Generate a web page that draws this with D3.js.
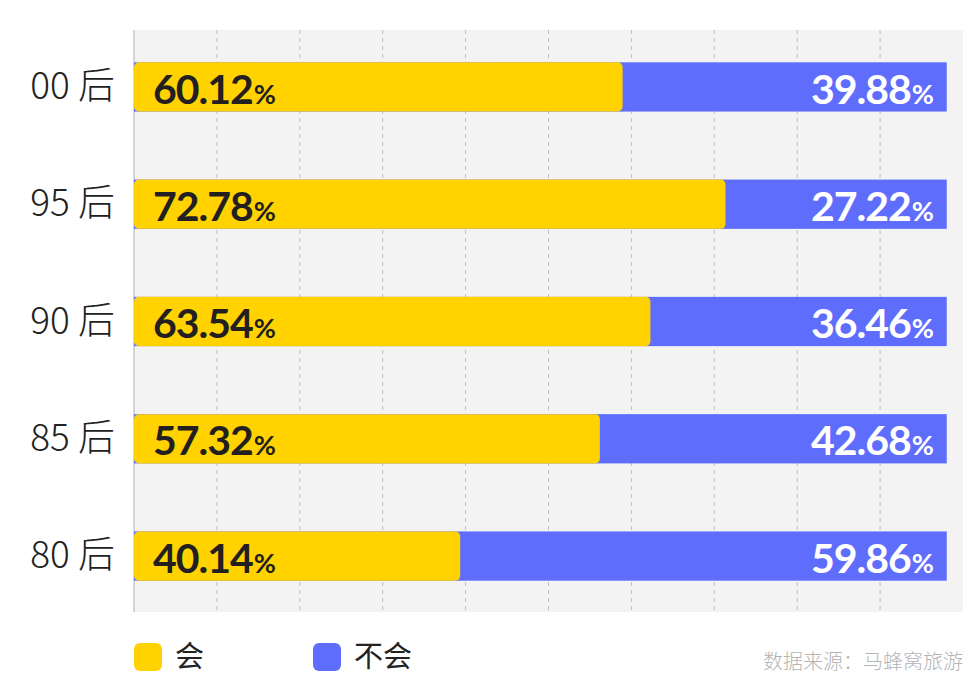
<!DOCTYPE html>
<html>
<head>
<meta charset="utf-8">
<script src="https://cdn.jsdelivr.net/npm/d3@7"></script>
<style>
  body { margin: 0; background: #fff; }
  svg { display: block; }
</style>
</head>
<body>
<svg id="chart" width="980" height="692"></svg>
<script>
const groups = ["00 后", "95 后", "90 后", "85 后", "80 后"]
const will = [60.12, 72.78, 63.54, 57.32, 40.14]
const wont = [39.88, 27.22, 36.46, 42.68, 59.86]
const series_names = ["会", "不会"]
const source_text = "数据来源：马蜂窝旅游"

const colors = { will: "#FFD200", wont: "#5F6DFD" }

const width = 980
const height = 692
const plot = { left: 134, right: 963, top: 30, bottom: 612 }

const svg = d3.select("#chart")

// x: share in percent, plot frame is slightly wider than 100%
const x = d3.scaleLinear().domain([0, 102]).range([plot.left, plot.right])
const grid = d3.scaleLinear().domain([0, 10]).range([plot.left, plot.right])
const y = d3.scaleBand().domain(groups).range([62.3, 580.7]).paddingInner(0.58)

// plot background
svg.append("rect")
  .attr("x", plot.left)
  .attr("y", plot.top)
  .attr("width", plot.right - plot.left)
  .attr("height", plot.bottom - plot.top)
  .attr("fill", "#f3f3f3")

// dashed gridlines
svg.append("g")
  .selectAll("line")
  .data(d3.range(1, 10))
  .enter()
  .append("line")
  .attr("x1", d => grid(d))
  .attr("x2", d => grid(d))
  .attr("y1", plot.top)
  .attr("y2", plot.bottom)
  .attr("stroke", "#bdbdbd")
  .attr("stroke-width", 1)
  .attr("stroke-dasharray", "4,4")

// axis line
svg.append("line")
  .attr("x1", plot.left)
  .attr("x2", plot.left)
  .attr("y1", plot.top)
  .attr("y2", plot.bottom)
  .attr("stroke", "#bdbdbd")
  .attr("stroke-width", 1.2)

const rows = groups.map((g, i) => ({ group: g, will: will[i], wont: wont[i] }))

// blue bars (full width, yellow sits on top)
svg.append("g")
  .selectAll("rect")
  .data(rows)
  .enter()
  .append("rect")
  .attr("x", x(0))
  .attr("y", d => y(d.group))
  .attr("width", d => x(d.will + d.wont) - x(0))
  .attr("height", y.bandwidth())
  .attr("fill", colors.wont)

// yellow bars
svg.append("g")
  .selectAll("rect")
  .data(rows)
  .enter()
  .append("rect")
  .attr("x", x(0))
  .attr("y", d => y(d.group))
  .attr("width", d => x(d.will) - x(0))
  .attr("height", y.bandwidth())
  .attr("rx", 5)
  .attr("fill", colors.will)

// category labels
svg.append("g")
  .selectAll("text")
  .data(rows)
  .enter()
  .append("text")
  .attr("x", 115)
  .attr("y", d => y(d.group) + y.bandwidth() / 2)
  .attr("dy", "0.33em")
  .attr("text-anchor", "end")
  .attr("font-family", "'Noto Sans CJK SC', 'Noto Sans', sans-serif")
  .attr("font-weight", 300)
  .attr("font-size", 37)
  .attr("fill", "#222")
  .text(d => d.group)

function pct_label(sel, value_key, fill, anchor, xpos){
  const t = sel.append("text")
    .attr("x", xpos)
    .attr("y", d => y(d.group) + y.bandwidth() - 8)
    .attr("text-anchor", anchor)
    .attr("font-family", "Lato, 'Noto Sans', sans-serif")
    .attr("font-weight", 700)
    .attr("fill", fill)
  t.append("tspan")
    .attr("font-size", 41)
    .attr("letter-spacing", -1)
    .text(d => d[value_key].toFixed(2))
  t.append("tspan")
    .attr("font-size", 27)
    .attr("dx", 1)
    .text("%")
}

const labels = svg.append("g").selectAll("g").data(rows).enter().append("g")
pct_label(labels, "will", "#231f20", "start", 153)
pct_label(labels, "wont", "#ffffff", "end", 934)

// legend
const legend_items = [
  { name: series_names[0], color: colors.will, x: 134 },
  { name: series_names[1], color: colors.wont, x: 313 }
]
const legend = svg.append("g")
  .selectAll("g")
  .data(legend_items)
  .enter()
  .append("g")
  .attr("transform", d => `translate(${d.x},643)`)
legend.append("rect")
  .attr("width", 28)
  .attr("height", 28)
  .attr("rx", 6)
  .attr("fill", d => d.color)
legend.append("text")
  .attr("x", 41)
  .attr("y", 14)
  .attr("dy", "0.36em")
  .attr("font-family", "'Noto Sans CJK SC', sans-serif")
  .attr("font-size", 29)
  .attr("fill", "#222")
  .text(d => d.name)

svg.append("text")
  .attr("x", plot.right)
  .attr("y", 669)
  .attr("text-anchor", "end")
  .attr("font-family", "'Noto Sans CJK SC', sans-serif")
  .attr("font-weight", 300)
  .attr("font-size", 20)
  .attr("fill", "#b3b3b3")
  .text(source_text)
</script>
</body>
</html>
